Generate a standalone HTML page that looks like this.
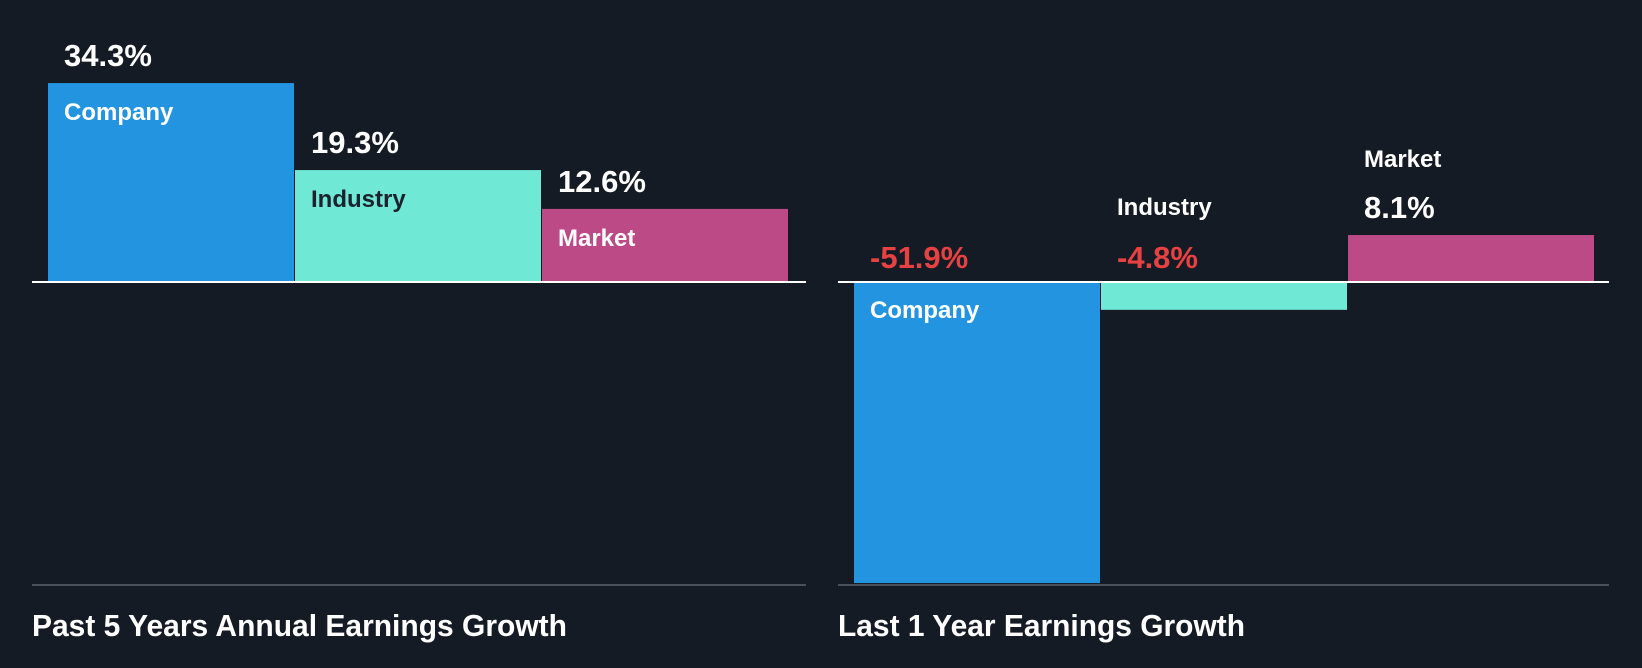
<!DOCTYPE html>
<html><head><meta charset="utf-8"><style>
html,body{margin:0;padding:0;background:#151b24;}
svg{display:block;font-family:"Liberation Sans",sans-serif;font-weight:bold;}
</style></head><body>
<svg width="1642" height="668" viewBox="0 0 1642 668" id="chart">
<rect width="1642" height="668" fill="#151b24"/>
</svg>
<script>
const categories = ["Company", "Industry", "Market"];
const past5Values = [34.3, 19.3, 12.6];
const last1Values = [-51.9, -4.8, 8.1];
const valueLabels5 = ["34.3%", "19.3%", "12.6%"];
const valueLabels1 = ["-51.9%", "-4.8%", "8.1%"];
const panelTitles = ["Past 5 Years Annual Earnings Growth", "Last 1 Year Earnings Growth"];

const NS = "http://www.w3.org/2000/svg";
const svg = document.getElementById("chart");
const colors = ["#2394df", "#6fe8d6", "#bb4a87"];
const baseY = 282, pxPer = 5.8;
function yScale(v){ return baseY - v * pxPer; }

function mk(tag, attrs, parent){
  const e = document.createElementNS(NS, tag);
  for (const k in attrs) e.setAttribute(k, attrs[k]);
  (parent || svg).appendChild(e);
  return e;
}
function txt(x, y, s, size, fill, parent){
  const t = mk("text", {x: x, y: y, "font-size": size, fill: fill}, parent);
  t.textContent = s;
  return t;
}

function panel(idx, x0, lineX0, lineX1, values, labels, titleWidth){
  const g = mk("g", {});
  
  
  const bw = 247;
  values.forEach((v, i) => {
    const x = x0 + i * bw;
    const y = yScale(Math.max(v, 0));
    const h = Math.abs(v) * pxPer;
    const r = mk("rect", {x: x, y: y, width: bw - 1, height: h, fill: colors[i]}, g);
    
    
    const valColor = v < 0 ? "#e84141" : "#ffffff";
    if (v >= 0) {
      const top = yScale(v);
      const vt = txt(x + 16, top - 17, labels[i], 31, valColor, g);
      
      
      const fits = h > 50;
      const lt = fits
        ? txt(x + 16, top + 37, categories[i], 24, i === 1 ? "#1b222d" : "#ffffff", g)
        : txt(x + 16, top - 68, categories[i], 24, "#ffffff", g);
      
      
    } else {
      const vt = txt(x + 16, baseY - 14, labels[i], 31, valColor, g);
      
      
      const fits = h > 50;
      const lt = fits
        ? txt(x + 16, baseY + 36, categories[i], 24, "#ffffff", g)
        : txt(x + 16, baseY - 67, categories[i], 24, "#ffffff", g);
      
      
    }
  });
  const zl = mk("line", {x1: lineX0, x2: lineX1, y1: baseY, y2: baseY, stroke: "#ffffff", "stroke-width": 2}, g);
  
  
  const bl = mk("line", {x1: lineX0, x2: lineX1, y1: 585, y2: 585, stroke: "#4a4f59", "stroke-width": 2}, g);
  
  
  const t = txt(lineX0, 636, panelTitles[idx], 31, "#ffffff", g);
  t.setAttribute("textLength", titleWidth);
  t.setAttribute("lengthAdjust", "spacingAndGlyphs");
  
  
}
panel(0, 48, 32, 806, past5Values, valueLabels5, 535);
panel(1, 854, 838, 1609, last1Values, valueLabels1, 407);
</script>
</body></html>
